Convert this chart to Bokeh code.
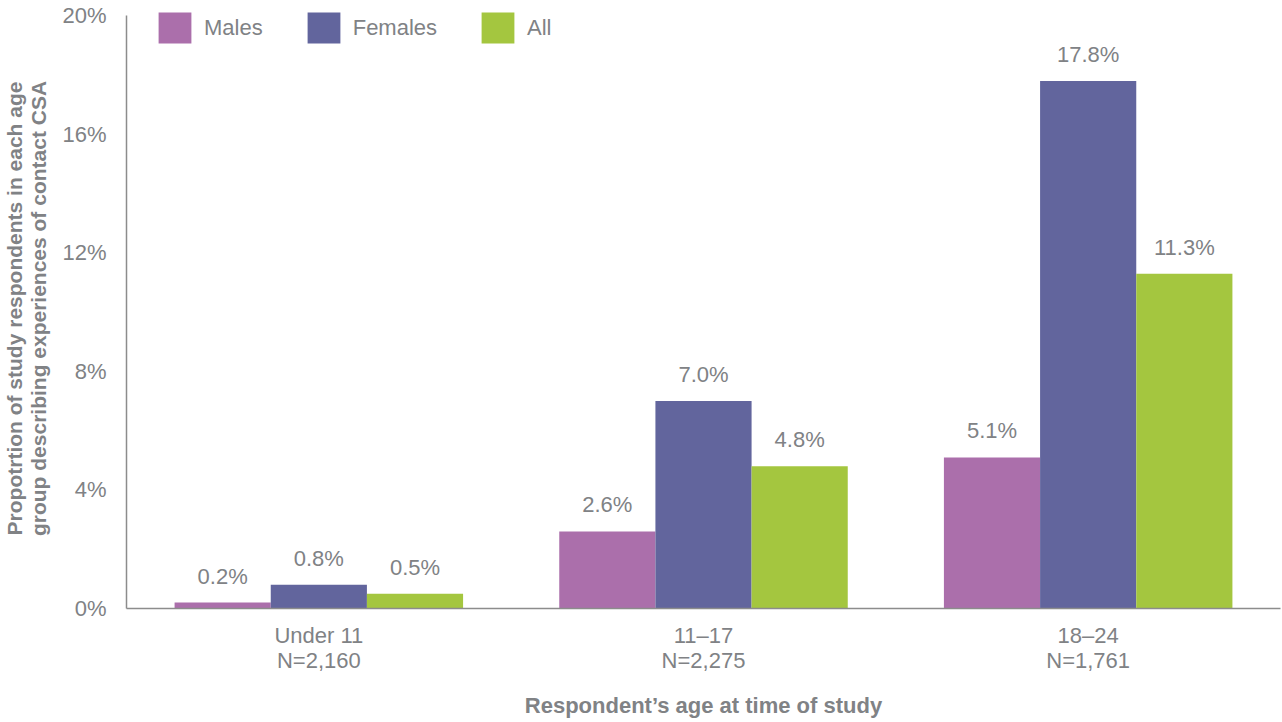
from bokeh.plotting import figure
from bokeh.models import ColumnDataSource, FactorRange, Legend, LegendItem, PrintfTickFormatter, FixedTicker
from bokeh.transform import dodge
from bokeh.core.properties import value
from bokeh.embed import file_html
from bokeh.resources import INLINE

categories = ["Under 11\nN=2,160", "11\u201317\nN=2,275", "18\u201324\nN=1,761"]
series_names = ["Males", "Females", "All"]
males = [0.2, 2.6, 5.1]
females = [0.8, 7.0, 17.8]
all_resp = [0.5, 4.8, 11.3]
y_ticks = [0, 4, 8, 12, 16, 20]
colors = ["#AB6FAB", "#62659D", "#A4C63F"]

FONT = "Liberation Sans"
TXT = "#808285"
AXC = "#8C8C8C"

src = ColumnDataSource(data=dict(
    cat=categories,
    Males=males, Females=females, All=all_resp,
    Males_l=[f"{v:.1f}%" for v in males],
    Females_l=[f"{v:.1f}%" for v in females],
    All_l=[f"{v:.1f}%" for v in all_resp],
))

W, H = 1282, 722
TOP, BOTTOM, LEFT, RIGHT = 8, 114, 125, 2
FRAME_H = H - TOP - BOTTOM
Y_END = 20.25

p = figure(x_range=FactorRange(*categories), y_range=(0, Y_END),
           width=W, height=H, output_backend="svg", toolbar_location=None,
           min_border_left=LEFT, min_border_right=RIGHT, min_border_top=TOP, min_border_bottom=BOTTOM)
p.outline_line_color = None
p.xgrid.grid_line_color = None
p.ygrid.grid_line_color = None
p.x_range.range_padding = 0

offsets = [-0.25, 0.0, 0.25]
renderers = []
for name, off, col in zip(series_names, offsets, colors):
    r = p.vbar(x=dodge("cat", off, range=p.x_range), top=name, width=0.25, source=src,
               fill_color=col, line_color=None)
    renderers.append(r)
    p.text(x=dodge("cat", off, range=p.x_range), y=name, text=name + "_l", source=src,
           text_align="center", text_baseline="bottom", y_offset=-14,
           text_font=value(FONT), text_font_size="22px", text_color=TXT)

# axes
for ax in (p.xaxis[0], p.yaxis[0]):
    ax.axis_line_color = AXC
    ax.axis_line_width = 1.5
    ax.major_tick_line_color = None
    ax.minor_tick_line_color = None
    ax.major_tick_out = 0
    ax.major_tick_in = 0
    ax.minor_tick_out = 0
    ax.minor_tick_in = 0
    ax.major_label_text_font = FONT
    ax.major_label_text_font_size = "22px"
    ax.major_label_text_color = TXT
    ax.axis_label_text_font = FONT
    ax.axis_label_text_font_style = "bold"
    ax.axis_label_text_color = TXT

p.yaxis.ticker = FixedTicker(ticks=y_ticks)
p.yaxis.bounds = (0, 20)
p.yaxis.formatter = PrintfTickFormatter(format="%d%%")
p.yaxis.major_label_standoff = 20
p.yaxis.axis_label = "Propotrtion of study respondents in each age\ngroup describing experiences of contact CSA"
p.yaxis.axis_label_text_font_size = "21px"
p.yaxis.axis_label_text_line_height = 1.05
p.yaxis.axis_label_standoff = 9

p.xaxis.major_label_standoff = 14
p.xaxis.major_label_text_line_height = 1.0
p.xaxis.axis_label = "Respondent\u2019s age at time of study"
p.xaxis.axis_label_text_font_size = "22px"
p.xaxis.axis_label_standoff = 17

legend = Legend(items=[LegendItem(label=n, renderers=[r]) for n, r in zip(series_names, renderers)],
                orientation="horizontal", location=(28, FRAME_H - 39),
                glyph_width=41, glyph_height=39, label_standoff=9, spacing=40,
                padding=0, margin=0, border_line_color=None, background_fill_alpha=0,
                label_text_font=FONT, label_text_font_size="22px", label_text_color=TXT,
                label_text_baseline="middle")
p.add_layout(legend)

open("out.html", "w").write(file_html(p, INLINE))
